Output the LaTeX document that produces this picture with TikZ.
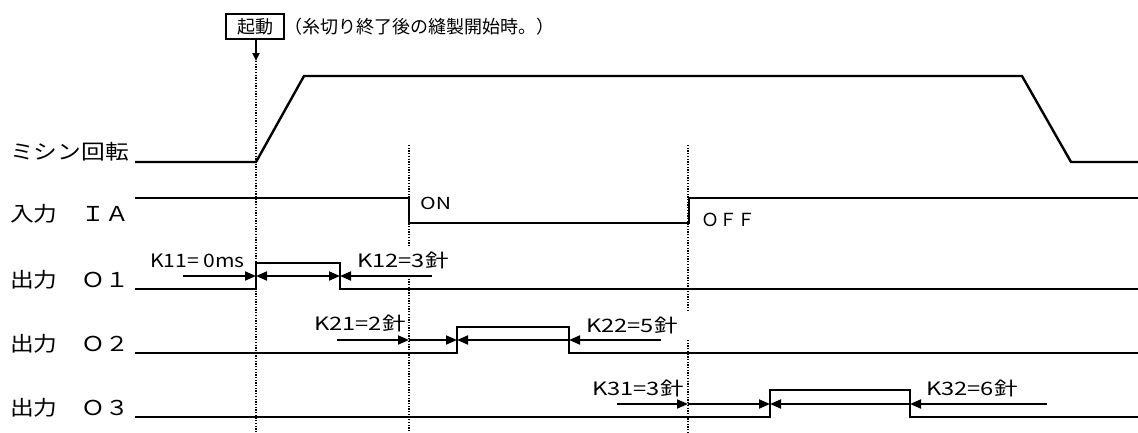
\documentclass[tikz,border=0pt]{standalone}
\usepackage{fontspec}
\setmainfont{Noto Sans CJK JP}
\newfontfamily\jpw[FakeStretch=1.16]{Noto Sans CJK JP}
\newfontfamily\jpk[FakeStretch=1.28]{Noto Sans CJK JP}
\newfontfamily\jpn[FakeStretch=1.14]{Noto Sans CJK JP}
\usetikzlibrary{arrows.meta}
\begin{document}
\begin{tikzpicture}[x=1pt,y=-1pt,
 sig/.style={line width=2.4pt, line join=miter},
 guide/.style={line width=1.3pt, dash pattern=on 1.3pt off 1.4pt},
 dim/.style={line width=1.8pt, -{Triangle[length=11pt,width=9pt]}},
 dimboth/.style={line width=1.8pt, {Triangle[length=11pt,width=9pt]}-{Triangle[length=11pt,width=9pt]}},
 rowlab/.style={anchor=base west, inner sep=0, font=\jpw\fontsize{20.5}{22}\selectfont},
 klab/.style={anchor=base west, inner sep=0, font=\jpk\fontsize{18.5}{20}\selectfont},
 jp/.style={inner sep=0, font=\fontsize{18}{20}\selectfont},
]
\useasboundingbox (0,0) rectangle (1138,432);

% start box and note
\node[jp, draw, line width=1.4pt, minimum width=58pt, minimum height=25pt] (start) at (255,26.5) {起動};
\node[jp, anchor=west] (note) at (284,26.5) {（糸切り終了後の縫製開始時。）};
\coordinate (g1top) at (256,61);
\draw[line width=1.8pt, -{Triangle[length=8pt,width=7pt]}] (start.south -| g1top) -- (g1top);

% guide lines (dotted)
\draw[guide] (g1top) -- (256,432);
\draw[guide] (409,145) -- (409,245);
\draw[guide] (409,276) -- (409,432);
\draw[guide] (688,145) -- (688,311);
\draw[guide] (688,340) -- (688,432);

% row labels
\node[rowlab] (lmot) at (10,159) {ミシン回転};
\node[rowlab] (lia) at (10,221) {入力　ＩＡ};
\node[rowlab] (lo1) at (10,287) {出力　Ｏ１};
\node[rowlab] (lo2) at (10,351) {出力　Ｏ２};
\node[rowlab] (lo3) at (10,415) {出力　Ｏ３};

% waveforms
\draw[sig] (135,162) -- (256,162) -- (304,76) -- (1022,76) -- (1071,162) -- (1138,162);
\draw[sig] (135,198) -- (409,198) -- (409,223) -- (689,223) -- (689,198) -- (1138,198);
\draw[sig] (135,289) -- (256,289) -- (256,263) -- (340,263) -- (340,289) -- (1138,289);
\draw[sig] (135,353) -- (457,353) -- (457,327) -- (569,327) -- (569,353) -- (1138,353);
\draw[sig] (135,417) -- (770,417) -- (770,390) -- (910,390) -- (910,417) -- (1138,417);

% ON / OFF
\node[anchor=base west, inner sep=0, font=\jpk\fontsize{16.5}{20}\selectfont] (on) at (420,209) {ON};
\node[anchor=base west, inner sep=0, font=\fontsize{18}{20}\selectfont] (off) at (701,226) {ＯＦＦ};

% O1 dimensions
\coordinate (a1) at (183,276); \coordinate (b1) at (256,276);
\coordinate (c1) at (340,276); \coordinate (d1) at (432,276);
\draw[dim] (a1) -- (b1);
\draw[dimboth] (b1) -- (c1);
\draw[dim] (d1) -- (c1);
\node[klab, font=\jpn\fontsize{18.5}{20}\selectfont] (k11) at (150,267) {K11= 0ms};
\node[klab] (k12) at (357,267) {K12=3針};

% O2 dimensions
\coordinate (a2) at (337,340); \coordinate (b2) at (409,340);
\coordinate (c2) at (457,340); \coordinate (d2) at (569,340);
\coordinate (e2) at (661,340);
\draw[dim] (a2) -- (b2);
\draw[dim] (b2) -- (c2);
\draw[dim] (d2) -- (c2);
\draw[dim] (e2) -- (d2);
\node[klab] (k21) at (314,330) {K21=2針};
\node[klab] (k22) at (586,332) {K22=5針};

% O3 dimensions
\coordinate (a3) at (617,404); \coordinate (b3) at (688,404);
\coordinate (c3) at (770,404); \coordinate (d3) at (910,404);
\coordinate (e3) at (1047,404);
\draw[dim] (a3) -- (b3);
\draw[dim] (b3) -- (c3);
\draw[dim] (d3) -- (c3);
\draw[dim] (e3) -- (d3);
\node[klab] (k31) at (592,395) {K31=3針};
\node[klab] (k32) at (926,395) {K32=6針};
\end{tikzpicture}
\end{document}
